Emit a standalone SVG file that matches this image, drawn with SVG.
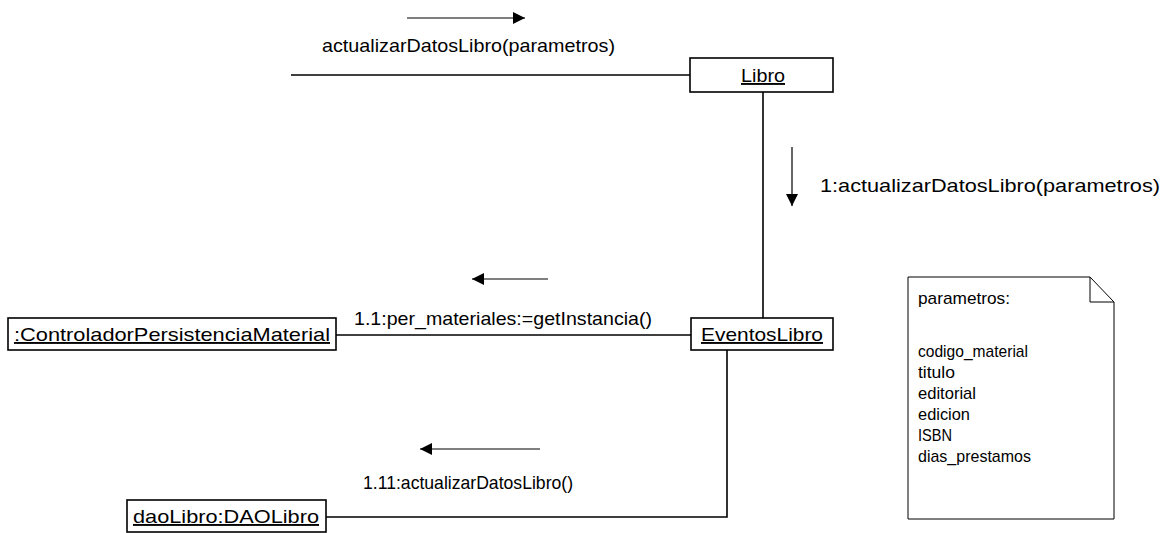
<svg xmlns="http://www.w3.org/2000/svg" width="1171" height="533" viewBox="0 0 1171 533">
<defs>
<style>
text{font-family:"Liberation Sans",Arial,sans-serif;font-size:19px;fill:#000}
.u{text-decoration:underline}
.box{fill:#fff;stroke:#000;stroke-width:1.6}
.ln{stroke:#000;stroke-width:1.6;fill:none}
.ar{stroke:#000;stroke-width:1.2;fill:none}
.nt{font-size:17px}
</style>
<marker id="ah" viewBox="0 0 10 10" refX="10" refY="5" markerWidth="12" markerHeight="12" markerUnits="userSpaceOnUse" orient="auto"><path d="M0,0 L10,5 L0,10 z" fill="#000"/></marker>
</defs>
<rect width="1171" height="533" fill="#fff"/>
<g id="connectors">
<line class="ln" x1="291" y1="75" x2="690" y2="75"/>
<line class="ln" x1="763" y1="92" x2="763" y2="318"/>
<line class="ln" x1="336" y1="335" x2="691" y2="335"/>
<polyline class="ln" points="727,350 727,517 326,517"/>
<line class="ar" x1="407" y1="18" x2="525" y2="18" marker-end="url(#ah)"/>
<line class="ar" x1="792" y1="147" x2="792" y2="206" marker-end="url(#ah)"/>
<line class="ar" x1="548" y1="279" x2="472" y2="279" marker-end="url(#ah)"/>
<line class="ar" x1="540" y1="449" x2="420" y2="449" marker-end="url(#ah)"/>
<text x="322" y="52" textLength="293" lengthAdjust="spacingAndGlyphs">actualizarDatosLibro(parametros)</text>
<text x="820" y="192" textLength="340" lengthAdjust="spacingAndGlyphs">1:actualizarDatosLibro(parametros)</text>
<text x="354" y="325" textLength="298" lengthAdjust="spacingAndGlyphs">1.1:per_materiales:=getInstancia()</text>
<text x="363" y="489" textLength="210" lengthAdjust="spacingAndGlyphs">1.11:actualizarDatosLibro()</text>
</g>
<g id="libro">
<rect class="box" x="690" y="58" width="143" height="34"/>
<text class="u" x="763" y="82" text-anchor="middle" textLength="44" lengthAdjust="spacingAndGlyphs">Libro</text>
</g>
<g id="eventosLibro">
<rect class="box" x="691" y="318" width="142" height="32"/>
<text class="u" x="762" y="341" text-anchor="middle" textLength="122" lengthAdjust="spacingAndGlyphs">EventosLibro</text>
</g>
<g id="controlador">
<rect class="box" x="8" y="318" width="328" height="32"/>
<text class="u" x="172" y="341" text-anchor="middle" textLength="316" lengthAdjust="spacingAndGlyphs">:ControladorPersistenciaMaterial</text>
</g>
<g id="daoLibro">
<rect class="box" x="127" y="500" width="199" height="32"/>
<text class="u" x="226" y="523" text-anchor="middle" textLength="186" lengthAdjust="spacingAndGlyphs">daoLibro:DAOLibro</text>
</g>
<g id="nota">
<path d="M908,277 L1090,277 L1114,302 L1114,519 L908,519 Z" fill="#fff" stroke="#000" stroke-width="1"/>
<path d="M1090,277 L1090,302 L1114,302" fill="none" stroke="#000" stroke-width="1"/>
<text class="nt" x="918" y="304" textLength="92" lengthAdjust="spacingAndGlyphs">parametros:</text>
<text class="nt" x="918" y="357" textLength="110" lengthAdjust="spacingAndGlyphs">codigo_material</text>
<text class="nt" x="918" y="378" textLength="37" lengthAdjust="spacingAndGlyphs">titulo</text>
<text class="nt" x="918" y="399" textLength="58" lengthAdjust="spacingAndGlyphs">editorial</text>
<text class="nt" x="918" y="420" textLength="52" lengthAdjust="spacingAndGlyphs">edicion</text>
<text class="nt" x="918" y="441" textLength="34" lengthAdjust="spacingAndGlyphs">ISBN</text>
<text class="nt" x="918" y="462" textLength="113" lengthAdjust="spacingAndGlyphs">dias_prestamos</text>
</g>
</svg>
